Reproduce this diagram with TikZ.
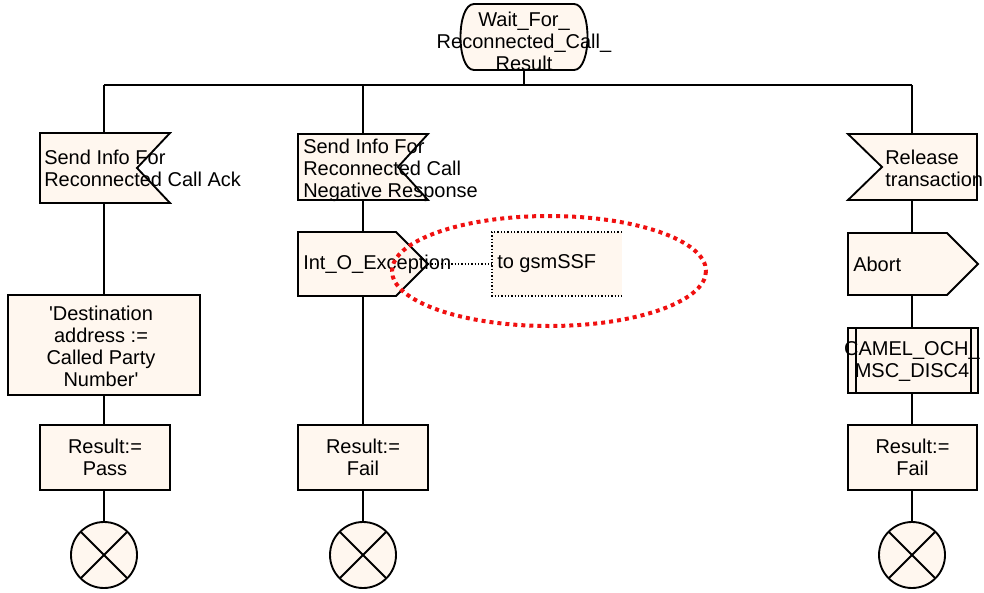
\documentclass[tikz,border=0pt]{standalone}
\usepackage{fontspec}
\setmainfont{Liberation Sans}[Ligatures=TeXOff]
\usetikzlibrary{shapes.geometric}
\definecolor{cream}{HTML}{FFF7EF}
\definecolor{ringred}{HTML}{F01010}
\tikzset{
  sym/.style={draw=black, line width=1.4pt, fill=cream, line join=miter},
  holder/.style={rectangle, draw=none, inner sep=0pt, outer sep=0pt},
  boxsym/.style={rectangle, draw=black, line width=1.4pt, fill=cream, inner sep=0pt, outer sep=0pt, align=center, font=\fontsize{15}{16.5}\selectfont},
  txt/.style={inner sep=0pt, align=left, font=\fontsize{15}{16.5}\selectfont},
  ctxt/.style={inner sep=0pt, align=center, font=\fontsize{15}{16.5}\selectfont},
  flow/.style={draw=black, line width=1.4pt},
  stopsym/.style={circle, draw=black, line width=1.4pt, fill=cream, minimum size=49.5pt, inner sep=0pt, outer sep=0pt},
  dotline/.style={draw=black, line width=1.1pt, dash pattern=on 1.1pt off 1.4pt},
  redring/.style={draw=ringred, line width=3pt, dash pattern=on 3pt off 3pt}
}
\begin{document}
\begin{tikzpicture}[x=0.75pt, y=-0.75pt]
\useasboundingbox (0,0) rectangle (984,592);

% ---------- top state ----------
\node[holder, minimum width=75pt, minimum height=49.5pt] (st) at (524,37) {};
\path[sym] (st.north west) -- (st.north east)
  .. controls ([xshift=13.5pt]st.north east) and ([xshift=13.5pt]st.south east) .. (st.south east)
  -- (st.south west)
  .. controls ([xshift=-13.5pt]st.south west) and ([xshift=-13.5pt]st.north west) .. (st.north west) -- cycle;
\node[ctxt] (stt) at (524,41) {Wait\_For\_\\Reconnected\_Call\_\\Result};

% junction coordinates
\coordinate (j0) at (524,85);
\coordinate (j1) at (104,85);
\coordinate (j2) at (363,85);
\coordinate (j3) at (912,85);

% ---------- branch 1 ----------
\node[holder, minimum width=97.5pt, minimum height=52.5pt] (in1) at (105,168) {};
\path[sym] (in1.north west) -- (in1.north east) -- ([xshift=-24.75pt]in1.east) -- (in1.south east) -- (in1.south west) -- cycle;
\node[txt, anchor=west] (in1t) at (44,168) {Send Info For\\Reconnected Call Ack};

\node[boxsym, minimum width=144pt, minimum height=75pt] (dest) at (104,345) {};
\node[ctxt] (destt) at (101,346) {'Destination\\address :=\\Called Party\\Number'};

\node[boxsym, minimum width=97.5pt, minimum height=48.75pt] (res1) at (105,457.5) {Result:=\\Pass};
\node[stopsym] (c1) at (104,555) {};
\draw[line width=1.4pt] (c1.north east) -- (c1.south west) (c1.north west) -- (c1.south east);

% ---------- branch 2 ----------
\node[holder, minimum width=97.5pt, minimum height=49.5pt] (in2) at (363,167) {};
\path[sym] (in2.north west) -- (in2.north east) -- ([xshift=-22.5pt]in2.east) -- (in2.south east) -- (in2.south west) -- cycle;
\node[txt, anchor=west] (in2t) at (303,170) {Send Info For\\Reconnected Call\\Negative Response};

\node[holder, minimum width=97.5pt, minimum height=48pt] (out2) at (363,264) {};
\path[sym] (out2.north west) -- ([xshift=-24pt]out2.north east) -- (out2.east) -- ([xshift=-24pt]out2.south east) -- (out2.south west) -- cycle;

\node[holder, minimum width=97.5pt, minimum height=48pt] (cm) at (557,264) {};
\fill[cream] (cm.north west) rectangle (cm.south east);
\draw[dotline] (cm.north east) -- (cm.north west) -- (cm.south west) -- (cm.south east);
\draw[dotline] (out2.east) -- (cm.west);
\node[txt, anchor=west] (out2t) at (303,264) {Int\_O\_Exception};
\node[txt, anchor=west] (cmt) at (497,264) {to gsmSSF};

\node[boxsym, minimum width=97.5pt, minimum height=48.75pt] (res2) at (363,457.5) {Result:=\\Fail};
\node[stopsym] (c2) at (363,555) {};
\draw[line width=1.4pt] (c2.north east) -- (c2.south west) (c2.north west) -- (c2.south east);

\draw[redring] (549,271) ellipse [x radius=157, y radius=55];

% ---------- branch 3 ----------
\node[holder, minimum width=96.75pt, minimum height=49.5pt] (in3) at (912.5,167) {};
\path[sym] (in3.north west) -- (in3.north east) -- (in3.south east) -- (in3.south west) -- ([xshift=25.5pt]in3.west) -- cycle;
\node[txt, anchor=west] (in3t) at (885,168) {Release\\transaction};

\node[holder, minimum width=97.5pt, minimum height=46.5pt] (out3) at (913,264) {};
\path[sym] (out3.north west) -- ([xshift=-23.25pt]out3.north east) -- (out3.east) -- ([xshift=-23.25pt]out3.south east) -- (out3.south west) -- cycle;
\node[txt, anchor=west] (out3t) at (853,264) {Abort};

\node[boxsym, minimum width=97.5pt, minimum height=48.75pt] (proc) at (913,360.5) {};
\draw[line width=1.4pt] ([xshift=6pt]proc.north west) -- ([xshift=6pt]proc.south west)
  ([xshift=-5pt]proc.north east) -- ([xshift=-5pt]proc.south east);
\node[ctxt] (proct) at (912,361) {CAMEL\_OCH\_\\MSC\_DISC4};

\node[boxsym, minimum width=96.75pt, minimum height=48.75pt] (res3) at (912.5,457.5) {Result:=\\Fail};
\node[stopsym] (c3) at (912,555) {};
\draw[line width=1.4pt] (c3.north east) -- (c3.south west) (c3.north west) -- (c3.south east);

% ---------- connectors ----------
\draw[flow] (st.south) -- (j0);
\draw[flow] (j1) -- (j3);
\draw[flow] (j1) -- (j1 |- in1.north);
\draw[flow] (j2) -- (j2 |- in2.north);
\draw[flow] (j3) -- (j3 |- in3.north);
\draw[flow] (j1 |- in1.south) -- (j1 |- dest.north);
\draw[flow] (dest.south) -- (j1 |- res1.north);
\draw[flow] (j1 |- res1.south) -- (c1.north);
\draw[flow] (in2.south) -- (out2.north);
\draw[flow] (out2.south) -- (res2.north);
\draw[flow] (res2.south) -- (c2.north);
\draw[flow] (j3 |- in3.south) -- (j3 |- out3.north);
\draw[flow] (j3 |- out3.south) -- (j3 |- proc.north);
\draw[flow] (j3 |- proc.south) -- (j3 |- res3.north);
\draw[flow] (j3 |- res3.south) -- (c3.north);
\end{tikzpicture}
\end{document}
